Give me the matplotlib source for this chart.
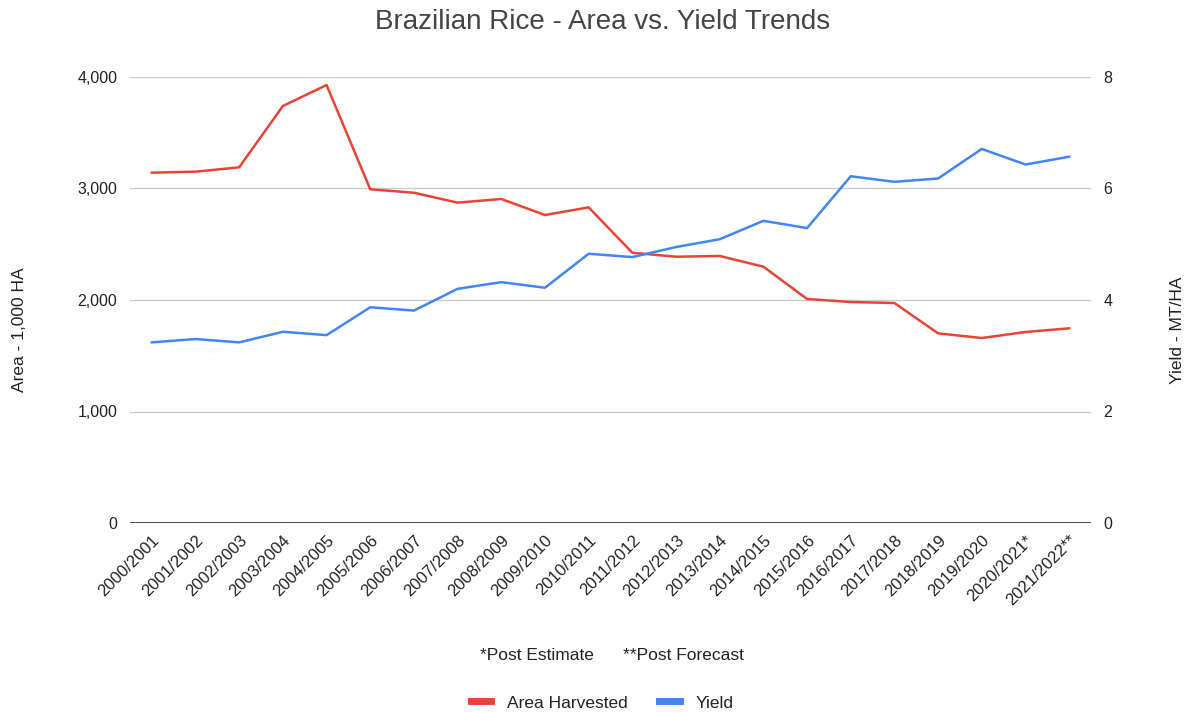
import matplotlib
matplotlib.use("Agg")
import matplotlib.pyplot as plt
from matplotlib.lines import Line2D

plt.rcParams["font.family"] = ["Liberation Sans", "DejaVu Sans"]

SEASONS = ["2000/2001", "2001/2002", "2002/2003", "2003/2004", "2004/2005",
           "2005/2006", "2006/2007", "2007/2008", "2008/2009", "2009/2010",
           "2010/2011", "2011/2012", "2012/2013", "2013/2014", "2014/2015",
           "2015/2016", "2016/2017", "2017/2018", "2018/2019", "2019/2020",
           "2020/2021*", "2021/2022**"]
AREA = [3142, 3151, 3190, 3740, 3928, 2993, 2962, 2873, 2906, 2762,
        2831, 2424, 2388, 2395, 2299, 2009, 1982, 1973, 1701, 1659,
        1713, 1746]
YIELD = [3.24, 3.30, 3.24, 3.43, 3.37, 3.87, 3.81, 4.20, 4.32, 4.22,
         4.83, 4.77, 4.95, 5.09, 5.42, 5.29, 6.22, 6.12, 6.18, 6.71,
         6.43, 6.57]

RED = "#ea4335"
BLUE = "#4285f4"
TXT = "#222222"
W, H = 1189, 713

fig = plt.figure(figsize=(W / 100, H / 100), dpi=100)
ax = fig.add_axes([130 / W, 1 - 523 / H, (1091 - 130) / W, (523 - 77) / H])
ax2 = ax.twinx()

x = list(range(len(SEASONS)))
ax.plot(x, AREA, color=RED, lw=1.8, zorder=3)
ax2.plot(x, YIELD, color=BLUE, lw=1.8, zorder=3)

ax.set_xlim(-0.5, len(SEASONS) - 0.5)
ax.set_ylim(0, 4000)
ax2.set_ylim(0, 8)
ax.set_yticks([0, 1000, 2000, 3000, 4000])
ax.set_yticklabels(["0", "1,000", "2,000", "3,000", "4,000"])
ax2.set_yticks([0, 2, 4, 6, 8])

ax.grid(axis="y", color="#cccccc", lw=1)
ax.set_axisbelow(True)
for a in (ax, ax2):
    for s in a.spines.values():
        s.set_visible(False)
    a.tick_params(length=0, labelsize=11.5, colors=TXT)
ax.axhline(0, color="#333333", lw=1.2, zorder=4)

ax.set_xticks(x)
ax.set_xticklabels(SEASONS, rotation=45, ha="right", rotation_mode="anchor", fontsize=12)
ax.tick_params(axis="x", pad=7)
ax.tick_params(axis="y", pad=9)
ax2.tick_params(axis="y", pad=9)

# axis titles
fig.text(20 / W, 1 - 330 / H, "Area - 1,000 HA", rotation=90, ha="center", va="center",
         fontsize=12.5, color=TXT)
fig.text(1177 / W, 1 - 330 / H, "Yield - MT/HA", rotation=90, ha="center", va="center",
         fontsize=12.5, color=TXT)

fig.text(603 / W, 1 - 22 / H, "Brazilian Rice - Area vs. Yield Trends",
         ha="center", va="center", fontsize=20, color="#444444")
fig.text(612 / W, 1 - 656 / H, "*Post Estimate      **Post Forecast",
         ha="center", va="center", fontsize=12.5, color=TXT)

handles = [Line2D([], [], color=RED, lw=5), Line2D([], [], color=BLUE, lw=5)]
fig.legend(handles, ["Area Harvested", "Yield"], loc="center",
           bbox_to_anchor=(602 / W, 1 - 703 / H), ncol=2, frameon=False,
           fontsize=12.5, handlelength=1.2, handletextpad=0.9, columnspacing=1.8,
           labelcolor=TXT)

fig.savefig("out.png", dpi=100)
